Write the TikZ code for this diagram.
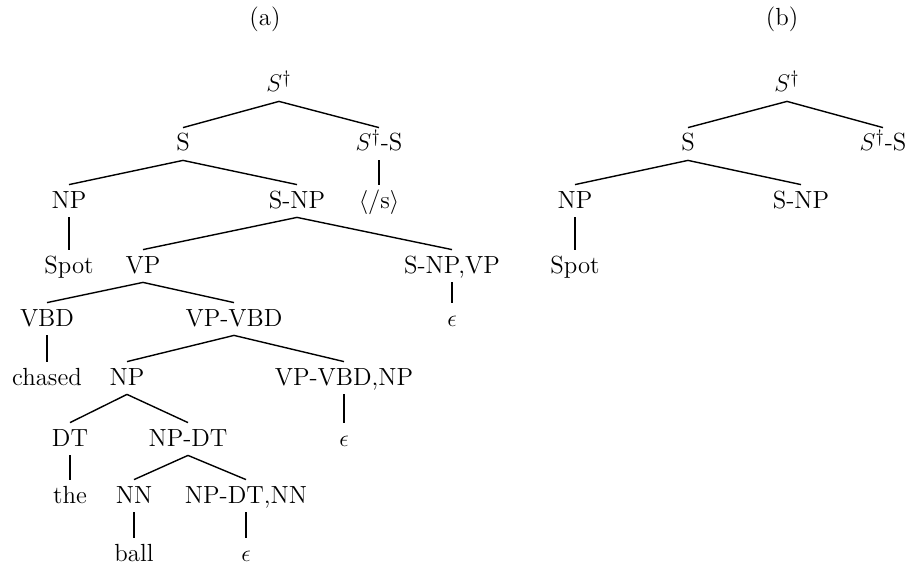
\documentclass[tikz,border=0pt]{standalone}
\usepackage{tikz}
\tikzstyle{cat} = [font=\fontsize{12.4}{15}\selectfont, inner xsep=0pt, inner ysep=3pt, text height=8.5pt, text depth=1.5pt, anchor=base]
\tikzstyle{branch} = [line width=0.7pt]
\tikzstyle{unary} = [line width=0.7pt]

\begin{document}
\begin{tikzpicture}[x=0.5pt, y=-0.5pt]
\useasboundingbox (0,0) rectangle (905,567);
% Panel labels
\node (capa) [cat] at (265,26) {(a)};
\node (capb) [cat] at (782,26) {(b)};

% Define the nodes of tree (a)
\node (top) [cat] at (279,92) {$S^\dagger$};
\node (s) [cat] at (183,151) {S};
\node (tops) [cat] at (379,151) {$S^\dagger$-S};
\node (np) [cat] at (69,208) {NP};
\node (snp) [cat] at (297,208) {S-NP};
\node (eos) [cat] at (379,208) {$\langle$/s$\rangle$};
\node (spot) [cat] at (69,273) {Spot};
\node (vp) [cat] at (143,273) {VP};
\node (snpvp) [cat] at (452,273) {S-NP,VP};
\node (vbd) [cat] at (47,326) {VBD};
\node (vpvbd) [cat] at (234,326) {VP-VBD};
\node (eps1) [cat] at (452,326) {$\epsilon$};
\node (chased) [cat] at (47,385) {chased};
\node (obj) [cat] at (127,385) {NP};
\node (vpvbdnp) [cat] at (344,385) {VP-VBD,NP};
\node (dt) [cat] at (70,446) {DT};
\node (npdt) [cat] at (188,446) {NP-DT};
\node (eps2) [cat] at (344,446) {$\epsilon$};
\node (the) [cat] at (70,503) {the};
\node (nn) [cat] at (134,503) {NN};
\node (npdtnn) [cat] at (246,503) {NP-DT,NN};
\node (ball) [cat] at (134,561) {ball};
\node (eps3) [cat] at (246,561) {$\epsilon$};

% Define the nodes of tree (b)
\node (topb) [cat] at (787,92) {$S^\dagger$};
\node (sb) [cat] at (688,151) {S};
\node (topsb) [cat] at (883,151) {$S^\dagger$-S};
\node (npb) [cat] at (575,208) {NP};
\node (snpb) [cat] at (801,208) {S-NP};
\node (spotb) [cat] at (575,273) {Spot};

% Draw the branches of tree (a)
\draw [branch] (top.south) -- (s.north);
\draw [branch] (top.south) -- (tops.north);
\draw [branch] (s.south) -- (np.north);
\draw [branch] (s.south) -- (snp.north);
\draw [unary] (tops.south) -- (eos.north);
\draw [unary] (np.south) -- (spot.north);
\draw [branch] (snp.south) -- (vp.north);
\draw [branch] (snp.south) -- (snpvp.north);
\draw [branch] (vp.south) -- (vbd.north);
\draw [branch] (vp.south) -- (vpvbd.north);
\draw [unary] (snpvp.south) -- (eps1.north);
\draw [unary] (vbd.south) -- (chased.north);
\draw [branch] (vpvbd.south) -- (obj.north);
\draw [branch] (vpvbd.south) -- (vpvbdnp.north);
\draw [branch] (obj.south) -- (dt.north);
\draw [branch] (obj.south) -- (npdt.north);
\draw [unary] (vpvbdnp.south) -- (eps2.north);
\draw [unary] (dt.south) -- (the.north);
\draw [branch] (npdt.south) -- (nn.north);
\draw [branch] (npdt.south) -- (npdtnn.north);
\draw [unary] (nn.south) -- (ball.north);
\draw [unary] (npdtnn.south) -- (eps3.north);

% Draw the branches of tree (b)
\draw [branch] (topb.south) -- (sb.north);
\draw [branch] (topb.south) -- (topsb.north);
\draw [branch] (sb.south) -- (npb.north);
\draw [branch] (sb.south) -- (snpb.north);
\draw [unary] (npb.south) -- (spotb.north);

\end{tikzpicture}
\end{document}
